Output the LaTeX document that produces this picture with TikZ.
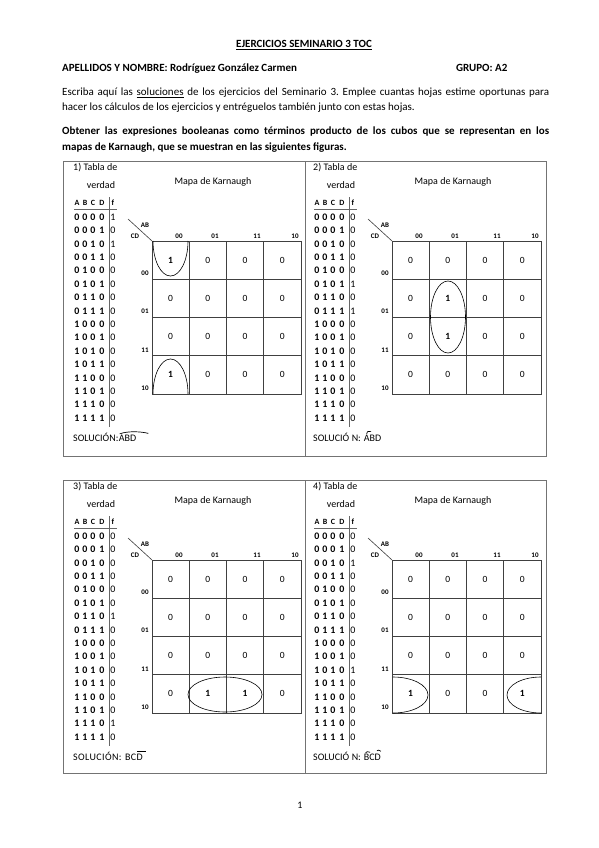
\documentclass[tikz,border=0pt]{standalone}
\usepackage{fontspec}
\setmainfont{Carlito}
\usetikzlibrary{positioning}
\frenchspacing

\tikzset{
  txt/.style={inner sep=0pt,anchor=base west,font=\fontsize{11}{13}\selectfont},
  btxt/.style={txt,font=\fontsize{11}{13}\selectfont\bfseries},
  ptxt/.style={inner sep=0pt,font=\fontsize{10}{12}\selectfont},
  hdr/.style={inner sep=0pt,font=\fontsize{8}{9}\selectfont\bfseries},
  dig/.style={inner sep=0pt,font=\fontsize{10}{10}\selectfont\bfseries},
  fval/.style={inner sep=0pt,font=\fontsize{10}{10}\selectfont},
  klab/.style={inner sep=0pt,font=\fontsize{7}{8}\selectfont\bfseries},
  cellv/.style={inner sep=0pt,font=\fontsize{9.5}{10}\selectfont},
  frame/.style={draw=black!55,line width=1pt},
  tline/.style={draw=black!60,line width=1pt},
  kgrid/.style={draw=black!75,line width=0.8pt},
  cube/.style={draw=black,line width=0.6pt},
  negmark/.style={draw=black,line width=0.7pt}
}

% one exercise: number, f column, shift
\newcommand{\kpanel}[3]{%
\begin{scope}[shift={(#3)}]
\node[ptxt,anchor=west] (tit#1) at (73,168) {#1) Tabla de};
\node[ptxt] (ver#1) at (101,185) {verdad};
\node[ptxt] (map#1) at (213,182) {Mapa de Karnaugh};
\foreach \h/\xx in {A/77,B/85,C/93,D/102,f/113} \node[hdr] (h#1\h) at (\xx,203) {\h};
\draw[tline] (74,209.5) -- (117,209.5);
\draw[tline] (109,197) -- (109,427);
\foreach \fv [count=\i from 0] in {#2} {
  \pgfmathsetmacro\yy{217+13.4*\i}
  \pgfmathtruncatemacro\da{div(\i,8)}
  \pgfmathtruncatemacro\db{mod(div(\i,4),2)}
  \pgfmathtruncatemacro\dc{mod(div(\i,2),2)}
  \pgfmathtruncatemacro\dd{mod(\i,2)}
  \node[dig] (a#1-\i) at (77,\yy) {\da};
  \node[dig] (b#1-\i) at (85,\yy) {\db};
  \node[dig] (c#1-\i) at (93,\yy) {\dc};
  \node[dig] (d#1-\i) at (102,\yy) {\dd};
  \node[fval] (f#1-\i) at (113,\yy) {\fv};
}
% Karnaugh map
\coordinate (k#1) at (152,241);
\draw[kgrid] (k#1) rectangle ++(149,153);
\foreach \c in {1,2,3} {
  \draw[kgrid] ([xshift=37.25*\c]k#1) -- ++(0,153);
  \draw[kgrid] ([yshift=-38.25*\c]k#1) -- ++(149,0);
}
\coordinate (kc#1) at (128,219);
\draw[kgrid,line width=0.6pt] (kc#1) -- (k#1);
\node[klab] (ab#1) at (145,225) {AB};
\node[klab] (cd#1) at (135,236) {CD};
\foreach \xx/\g in {179/00,215/01,257/11,295/10} \node[klab] (col#1\g) at (\xx,236) {\g};
\foreach \g [count=\r] in {00,01,11,10} \node[klab] (row#1\g) at (145,{241+38.25*\r-6}) {\g};
\foreach \c/\gc in {0/0,1/1,2/3,3/2} {
  \foreach \r/\gr in {0/0,1/1,2/3,3/2} {
    \pgfmathtruncatemacro\idx{4*\gc+\gr}
    \pgfmathtruncatemacro\val{{#2}[\idx]}
    \node[cellv] (v#1-\c-\r) at ({170.6+37.25*\c},{260.1+38.25*\r}) {\ifnum\val=1 \textbf{1}\else 0\fi};
  }
}
\end{scope}}

\begin{document}
\begin{tikzpicture}[x=1pt,y=-1pt]
\useasboundingbox (0,0) rectangle (599,848);
\fill[white] (0,0) rectangle (599,848);

% heading
\node[btxt,anchor=base] (title) at (304,48) {\underline{EJERCICIOS SEMINARIO 3 TOC}};
\node[btxt] (name) at (62,72) {APELLIDOS Y NOMBRE: Rodríguez González Carmen};
\node[btxt] (grupo) at (456,72) {GRUPO: A2};
\node[txt] (intro1) at (62,96) {\makebox[487pt][s]{Escriba aquí las \underline{soluciones} de los ejercicios del Seminario 3. Emplee cuantas hojas estime oportunas para}};
\node[txt] (intro2) at (62,111) {hacer los cálculos de los ejercicios y entréguelos también junto con estas hojas.};
\node[btxt] (task1) at (62,135) {\makebox[487pt][s]{Obtener las expresiones booleanas como términos producto de los cubos que se representan en los}};
\node[btxt] (task2) at (62,150) {mapas de Karnaugh, que se muestran en las siguientes figuras.};

% frames
\draw[frame] (63,161) rectangle (546,456);
\draw[frame] (305.5,161) -- (305.5,456);
\draw[frame] (63,480) rectangle (546,773);
\draw[frame] (305.5,480) -- (305.5,773);

\kpanel{1}{1,0,1,0,0,0,0,0,0,0,0,0,0,0,0,0}{0,0}
\kpanel{2}{0,0,0,0,0,1,0,1,0,0,0,0,0,0,0,0}{240,0}
\kpanel{3}{0,0,0,0,0,0,1,0,0,0,0,0,0,0,1,0}{0,319}
\kpanel{4}{0,0,1,0,0,0,0,0,0,0,1,0,0,0,0,0}{240,319}

% cubes
\draw[cube] (153,241) arc[start angle=180,end angle=0,x radius=17.5,y radius=35];
\draw[cube] (153,394) arc[start angle=180,end angle=360,x radius=17.5,y radius=35];
\draw[cube] (448,317) ellipse[x radius=17.5,y radius=36];
\draw[cube] (225,694.5) ellipse[x radius=37,y radius=17.5];
\draw[cube] (393,677) arc[start angle=270,end angle=450,x radius=35,y radius=18];
\draw[cube] (541,677) arc[start angle=270,end angle=90,x radius=34,y radius=18];

% solutions
\node[ptxt,anchor=base west] (sol1) at (73,441.5) {SOLUCIÓN:};
\node[ptxt,right=0pt of sol1.base east,anchor=base west] (sol1v) {ABD};
\node[ptxt,anchor=base west] (sol2) at (313,441.5) {SOLUCIÓ\kern2.5pt N:};
\node[ptxt,right=2.5pt of sol2.base east,anchor=base west] (sol2v) {ABD};
\node[ptxt,anchor=base west] (sol3) at (73,760.5) {\addfontfeature{LetterSpace=4}SOLUCIÓN:};
\node[ptxt,right=3pt of sol3.base east,anchor=base west] (sol3v) {\addfontfeature{LetterSpace=4}BCD};
\node[ptxt,anchor=base west] (sol4) at (313,760.5) {SOLUCIÓ\kern2.5pt N:};
\node[ptxt,right=2.5pt of sol4.base east,anchor=base west] (sol4v) {BCD};
\draw[negmark] ([xshift=1pt,yshift=1pt]sol1v.north west) .. controls +(8,-3) and +(-8,-2) .. ([xshift=12pt,yshift=1.5pt]sol1v.north east);
\draw[negmark] ([xshift=3pt,yshift=1pt]sol2v.north west) .. controls +(0.5,-2.5) .. ++(4.5,-2.5);
\draw[negmark] ([xshift=-5.5pt,yshift=2pt]sol3v.north east) -- ++(9,0);
\draw[negmark] ([xshift=2pt,yshift=1pt]sol4v.north west) .. controls +(1.5,-1.5) .. ++(4.5,-0.5);
\draw[negmark] ([xshift=-4pt,yshift=3pt]sol4v.north east) .. controls +(1.5,-1) .. ++(4,0.5);

\node[ptxt] (page) at (300,805) {1};
\end{tikzpicture}
\end{document}
